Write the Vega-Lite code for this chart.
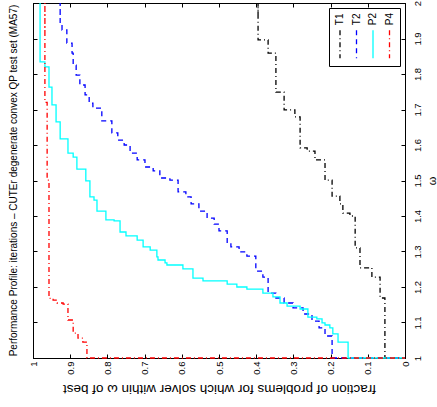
{
  "$schema": "https://vega.github.io/schema/vega-lite/v6.json",
  "autosize": {"type": "none"},
  "padding": {"left": 33, "top": 3, "right": 32, "bottom": 49},
  "width": 372,
  "height": 355,
  "title": {"text": "Performance Profile: iterations – CUTEr degenerate convex QP test set (MA57)", "orient": "left", "anchor": "middle", "fontSize": 10, "fontWeight": "normal", "font": "Liberation Sans", "offset": 9, "color": "black"},
  "config": {
    "font": "Liberation Sans",
    "view": {"stroke": "black", "strokeWidth": 1},
    "axis": {"domainColor": "black", "tickColor": "black", "labelColor": "black", "titleColor": "black", "titleFontWeight": "normal", "grid": false, "labelFontSize": 9.5, "titleFontSize": 11, "labelFont": "Liberation Sans", "titleFont": "Liberation Sans"}
  },
  "data": {"values": [
    {"s":"T1","w":1,"f":0},{"s":"T1","w":1,"f":0.046},{"s":"T1","w":1.169,"f":0.054},{"s":"T1","w":1.228,"f":0.067},{"s":"T1","w":1.254,"f":0.089},{"s":"T1","w":1.31,"f":0.121},{"s":"T1","w":1.4,"f":0.134},{"s":"T1","w":1.408,"f":0.148},{"s":"T1","w":1.434,"f":0.167},{"s":"T1","w":1.456,"f":0.175},{"s":"T1","w":1.501,"f":0.196},{"s":"T1","w":1.558,"f":0.215},{"s":"T1","w":1.583,"f":0.242},{"s":"T1","w":1.592,"f":0.263},{"s":"T1","w":1.679,"f":0.282},{"s":"T1","w":1.699,"f":0.296},{"s":"T1","w":1.749,"f":0.325},{"s":"T1","w":1.859,"f":0.347},{"s":"T1","w":1.896,"f":0.368},{"s":"T1","w":1.963,"f":0.395},{"s":"T1","w":2,"f":0.395},
    {"s":"T2","w":1,"f":0},{"s":"T2","w":1,"f":0.175},{"s":"T2","w":1.062,"f":0.196},{"s":"T2","w":1.085,"f":0.215},{"s":"T2","w":1.104,"f":0.231},{"s":"T2","w":1.124,"f":0.25},{"s":"T2","w":1.141,"f":0.274},{"s":"T2","w":1.155,"f":0.301},{"s":"T2","w":1.169,"f":0.325},{"s":"T2","w":1.183,"f":0.347},{"s":"T2","w":1.228,"f":0.368},{"s":"T2","w":1.245,"f":0.382},{"s":"T2","w":1.287,"f":0.401},{"s":"T2","w":1.299,"f":0.425},{"s":"T2","w":1.313,"f":0.446},{"s":"T2","w":1.324,"f":0.468},{"s":"T2","w":1.358,"f":0.478},{"s":"T2","w":1.377,"f":0.5},{"s":"T2","w":1.394,"f":0.513},{"s":"T2","w":1.414,"f":0.532},{"s":"T2","w":1.434,"f":0.554},{"s":"T2","w":1.454,"f":0.575},{"s":"T2","w":1.468,"f":0.589},{"s":"T2","w":1.501,"f":0.61},{"s":"T2","w":1.507,"f":0.632},{"s":"T2","w":1.527,"f":0.659},{"s":"T2","w":1.538,"f":0.677},{"s":"T2","w":1.558,"f":0.699},{"s":"T2","w":1.577,"f":0.72},{"s":"T2","w":1.6,"f":0.739},{"s":"T2","w":1.614,"f":0.755},{"s":"T2","w":1.634,"f":0.772},{"s":"T2","w":1.668,"f":0.788},{"s":"T2","w":1.704,"f":0.815},{"s":"T2","w":1.718,"f":0.839},{"s":"T2","w":1.741,"f":0.849},{"s":"T2","w":1.769,"f":0.86},{"s":"T2","w":1.797,"f":0.874},{"s":"T2","w":1.825,"f":0.884},{"s":"T2","w":1.859,"f":0.892},{"s":"T2","w":1.887,"f":0.895},{"s":"T2","w":1.924,"f":0.909},{"s":"T2","w":1.941,"f":0.922},{"s":"T2","w":1.966,"f":0.927},{"s":"T2","w":2,"f":0.927},
    {"s":"P2","w":1,"f":0},{"s":"P2","w":1,"f":0.14},{"s":"P2","w":1.045,"f":0.153},{"s":"P2","w":1.068,"f":0.18},{"s":"P2","w":1.085,"f":0.194},{"s":"P2","w":1.093,"f":0.202},{"s":"P2","w":1.099,"f":0.215},{"s":"P2","w":1.11,"f":0.223},{"s":"P2","w":1.115,"f":0.237},{"s":"P2","w":1.138,"f":0.261},{"s":"P2","w":1.146,"f":0.282},{"s":"P2","w":1.155,"f":0.317},{"s":"P2","w":1.172,"f":0.336},{"s":"P2","w":1.183,"f":0.355},{"s":"P2","w":1.194,"f":0.382},{"s":"P2","w":1.2,"f":0.425},{"s":"P2","w":1.208,"f":0.452},{"s":"P2","w":1.217,"f":0.478},{"s":"P2","w":1.225,"f":0.543},{"s":"P2","w":1.251,"f":0.57},{"s":"P2","w":1.262,"f":0.597},{"s":"P2","w":1.268,"f":0.64},{"s":"P2","w":1.276,"f":0.645},{"s":"P2","w":1.285,"f":0.664},{"s":"P2","w":1.304,"f":0.667},{"s":"P2","w":1.313,"f":0.685},{"s":"P2","w":1.332,"f":0.704},{"s":"P2","w":1.344,"f":0.72},{"s":"P2","w":1.355,"f":0.75},{"s":"P2","w":1.386,"f":0.766},{"s":"P2","w":1.389,"f":0.782},{"s":"P2","w":1.414,"f":0.804},{"s":"P2","w":1.445,"f":0.828},{"s":"P2","w":1.454,"f":0.836},{"s":"P2","w":1.499,"f":0.847},{"s":"P2","w":1.532,"f":0.858},{"s":"P2","w":1.566,"f":0.882},{"s":"P2","w":1.577,"f":0.892},{"s":"P2","w":1.617,"f":0.906},{"s":"P2","w":1.665,"f":0.927},{"s":"P2","w":1.713,"f":0.938},{"s":"P2","w":1.763,"f":0.949},{"s":"P2","w":1.82,"f":0.957},{"s":"P2","w":1.834,"f":0.968},{"s":"P2","w":1.848,"f":0.981},{"s":"P2","w":2,"f":0.981},
    {"s":"P4","w":1,"f":0},{"s":"P4","w":1,"f":0.833},{"s":"P4","w":1.045,"f":0.855},{"s":"P4","w":1.056,"f":0.866},{"s":"P4","w":1.07,"f":0.879},{"s":"P4","w":1.107,"f":0.892},{"s":"P4","w":1.152,"f":0.906},{"s":"P4","w":1.155,"f":0.919},{"s":"P4","w":1.163,"f":0.935},{"s":"P4","w":1.168,"f":0.946},{"s":"P4","w":1.501,"f":0.957},{"s":"P4","w":1.72,"f":0.962},{"s":"P4","w":1.91,"f":0.968},{"s":"P4","w":2,"f":0.968}
  ]},
  "layer": [
    {
      "mark": {"type": "line", "interpolate": "step-before", "strokeWidth": 1.3},
      "encoding": {
        "x": {"field": "f", "type": "quantitative", "scale": {"domain": [0, 1], "reverse": true, "nice": false},
              "axis": {"orient": "bottom", "values": [0, 0.1, 0.2, 0.3, 0.4, 0.5, 0.6, 0.7, 0.8, 0.9, 1], "format": "~g", "labelAngle": 270, "labelAlign": "right", "labelBaseline": "middle", "tickSize": -4, "labelPadding": 7, "title": "fraction of problems for which solver within ω of best", "titleAngle": 180, "titleBaseline": "bottom", "titlePadding": 7, "titleFontSize": 13.5}},
        "y": {"field": "w", "type": "quantitative", "scale": {"domain": [1, 2], "nice": false},
              "axis": {"orient": "right", "values": [1, 1.1, 1.2, 1.3, 1.4, 1.5, 1.6, 1.7, 1.8, 1.9, 2], "format": "~g", "labelAngle": 270, "labelAlign": "center", "labelBaseline": "top", "tickSize": -4, "labelPadding": 11, "title": "ω", "titleAngle": 270, "titleBaseline": "top", "titlePadding": 5}},
        "color": {"field": "s", "type": "nominal", "scale": {"domain": ["T1", "T2", "P2", "P4"], "range": ["#000000", "#0000ff", "#00ffff", "#ff0000"]},
                  "legend": {"orient": "top-right", "offset": 5, "direction": "horizontal", "columns": 4, "title": null, "symbolType": "M0,5L0,33", "symbolSize": 4, "symbolStrokeWidth": 1.3, "labelFontSize": 10, "columnPadding": 5.5, "padding": 5, "fillColor": "white", "strokeColor": "black", "labelColor": "black",
                             "encode": {
                               "symbols": {"update": {"x": {"value": 6}, "y": {"value": 12}}},
                               "labels": {"update": {"x": {"value": 6}, "y": {"value": 12}, "angle": {"value": 270}, "align": {"value": "left"}, "baseline": {"value": "middle"}}}
                             }}},
        "strokeDash": {"field": "s", "type": "nominal", "scale": {"domain": ["T1", "T2", "P2", "P4"], "range": [[5, 3, 1, 3], [5, 4], [1, 0], [5, 3, 1, 3]]}, "legend": null},
        "order": [{"field": "w", "type": "quantitative"}, {"field": "f", "type": "quantitative"}]
      }
    },
    {
      "mark": {"type": "point", "opacity": 0},
      "encoding": {
        "x": {"field": "f", "type": "quantitative", "axis": {"orient": "top", "values": [0, 0.1, 0.2, 0.3, 0.4, 0.5, 0.6, 0.7, 0.8, 0.9, 1], "labels": false, "title": null, "tickSize": -4}},
        "y": {"field": "w", "type": "quantitative", "axis": {"orient": "left", "values": [1, 1.1, 1.2, 1.3, 1.4, 1.5, 1.6, 1.7, 1.8, 1.9, 2], "labels": false, "title": null, "tickSize": -4}}
      }
    }
  ],
  "resolve": {"axis": {"x": "independent", "y": "independent"}}
}
